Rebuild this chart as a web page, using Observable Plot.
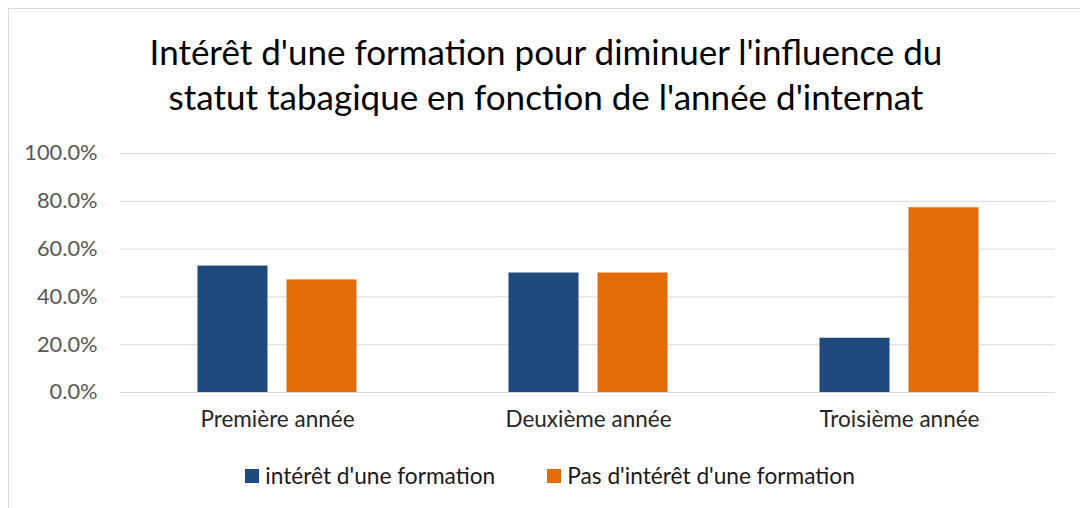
<!DOCTYPE html>
<html><head><meta charset="utf-8">
<script src="https://cdn.jsdelivr.net/npm/d3@7"></script>
<script src="https://cdn.jsdelivr.net/npm/@observablehq/plot@0.6"></script>
<style>
body{margin:0;background:#fff;font-family:Lato,"Open Sans",sans-serif;}
#wrap{position:relative;width:1080px;height:508px;overflow:hidden;background:#fff;}
#frame{position:absolute;left:8px;top:8px;width:1200px;height:700px;border:1px solid #d9d9d9;box-sizing:border-box;}
#title{position:absolute;left:0;width:1092px;top:29px;text-align:center;font-size:35px;line-height:45px;color:#000;}
#chart{position:absolute;left:0;top:128px;}
#legend{position:absolute;top:462px;left:0;width:1100px;display:flex;justify-content:center;align-items:center;font-size:22.7px;color:#1a1a1a;}
.item{display:flex;align-items:center;}
.sw{width:14px;height:14px;margin-right:6px;}
</style>
</head><body>
<div id="wrap">
<div id="frame"></div>
<div id="title">Intérêt d'une formation pour diminuer l'influence du<br>statut tabagique en fonction de l'année d'internat</div>
<div id="chart"></div>
<div id="legend"></div>
</div>
<script>
const categories = ["Première année", "Deuxième année", "Troisième année"];
const seriesNames = ["intérêt d'une formation", "Pas d'intérêt d'une formation"];
const interet = [0.529, 0.500, 0.227];
const pasInteret = [0.471, 0.500, 0.773];
const yTicks = [0, 0.2, 0.4, 0.6, 0.8, 1.0];
const colors = ["#1F497D", "#E36C09"];

const dataA = categories.map((c, i) => ({cat: c, v: interet[i]}));
const dataB = categories.map((c, i) => ({cat: c, v: pasInteret[i]}));

const chart = Plot.plot({
  width: 1080, height: 312,
  marginLeft: 120, marginRight: 25, marginTop: 25, marginBottom: 48,
  style: {fontFamily: "Lato, 'Open Sans', sans-serif", background: "transparent"},
  x: {domain: categories, paddingInner: 0.775, paddingOuter: 0.3875, axis: null},
  y: {domain: [0, 1], axis: null},
  marks: [
    Plot.ruleY(yTicks, {stroke: "#d9d9d9", strokeWidth: 1}),
    Plot.barY(dataA, {x: "cat", y: "v", fill: colors[0], dx: -44.5}),
    Plot.barY(dataB, {x: "cat", y: "v", fill: colors[1], dx: 44.5}),
    Plot.axisY(yTicks, {tickSize: 0, tickPadding: 23, tickFormat: d3.format(".1%"), fontSize: 21.8, fill: "#595959", label: null}),
    Plot.axisX({tickSize: 0, tickPadding: 19, fontSize: 22.5, fill: "#262626", label: null})
  ]
});
document.getElementById("chart").appendChild(chart);

const legend = document.getElementById("legend");
seriesNames.forEach((n, i) => {
  const it = document.createElement("div");
  it.className = "item";
  if (i > 0) it.style.marginLeft = "52px";
  const sw = document.createElement("div");
  sw.className = "sw"; sw.style.background = colors[i];
  const t = document.createElement("span"); t.textContent = n;
  it.appendChild(sw); it.appendChild(t);
  legend.appendChild(it);
});
</script>
</body></html>
